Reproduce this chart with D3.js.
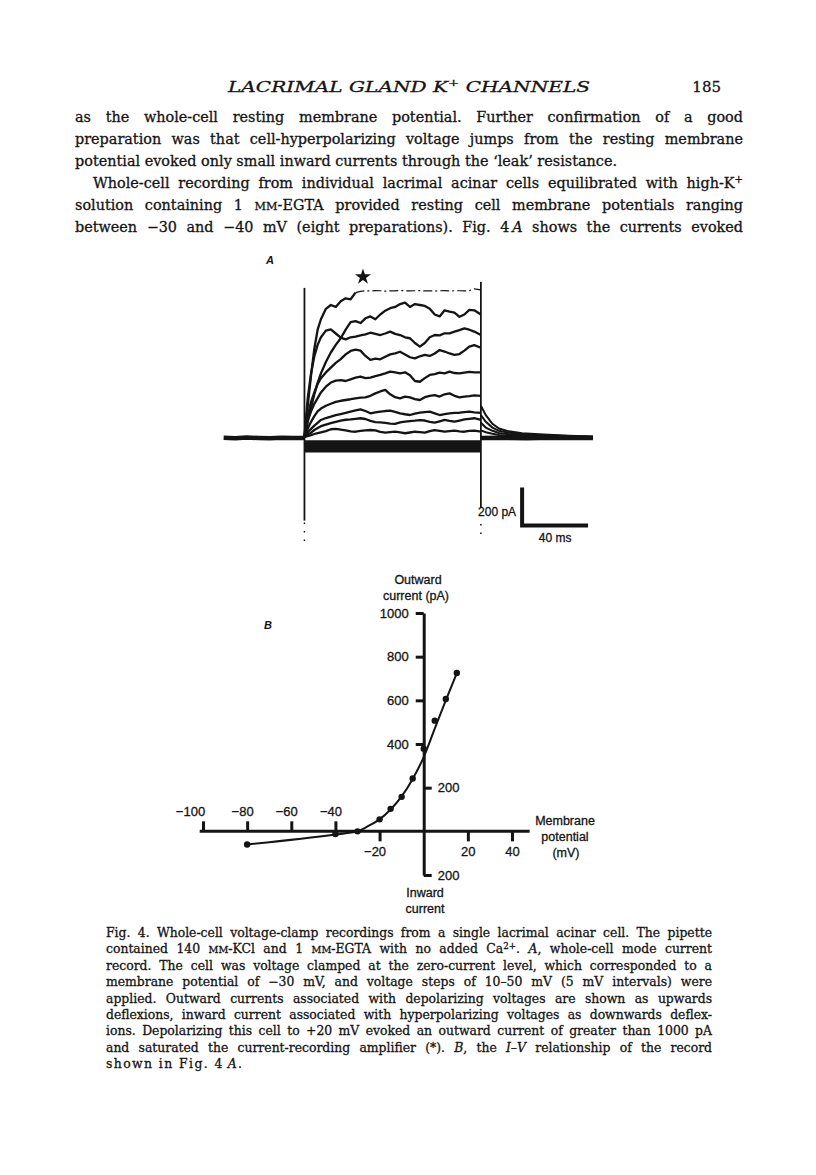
<!DOCTYPE html>
<html>
<head>
<meta charset="utf-8">
<script src="https://cdn.jsdelivr.net/npm/d3@7"></script>
<style>
  body { margin: 0; background: #fff; }
  svg { display: block; }
</style>
</head>
<body>
<div id="page"></div>
<script>
// ---- Panel A: whole-cell current traces (time in ms, current in pA) ----
const tA = [0, 1, 2, 4, 6, 8, 10, 13, 16, 19, 22, 25, 28, 31, 34, 37, 40, 43, 46, 49,
            52, 55, 58, 61, 64, 67, 70, 73, 76, 79, 82, 85, 88, 91, 94, 97, 100, 103, 107];

const trace1 = [5, 90, 170, 330, 470, 570, 625, 680, 700, 690, 720, 735, 730, 765, 772, 775, 774, 776, 775, 773,
                775, 774, 776, 775, 774, 775, 776, 774, 775, 773, 775, 776, 774, 775, 775, 774, 776, 785, 780];
const trace2 = [5, 40, 90, 160, 230, 290, 340, 400, 450, 490, 525, 570, 610, 615, 605, 630, 640, 625, 650, 670,
                683, 690, 705, 712, 690, 705, 700, 695, 680, 650, 640, 672, 665, 660, 638, 650, 674, 672, 650];
const trace3 = [5, 110, 210, 340, 430, 490, 530, 565, 572, 550, 528, 519, 530, 533, 540, 545, 554, 548, 542, 550,
                560, 548, 542, 530, 525, 500, 481, 500, 530, 542, 540, 551, 551, 560, 568, 577, 570, 560, 542];
const trace4 = [5, 60, 120, 190, 240, 285, 315, 345, 370, 395, 415, 440, 458, 465, 460, 432, 411, 418, 414, 428,
                440, 445, 454, 440, 425, 419, 430, 437, 432, 445, 463, 455, 445, 437, 442, 460, 481, 489, 475];
const trace5 = [5, 45, 90, 140, 180, 210, 240, 270, 292, 302, 305, 300, 309, 318, 323, 315, 318, 326, 332, 340,
                349, 345, 340, 346, 330, 300, 296, 315, 332, 336, 344, 340, 349, 342, 340, 344, 348, 345, 345];
const trace6 = [5, 25, 50, 85, 115, 140, 155, 170, 180, 190, 196, 200, 204, 209, 212, 214, 222, 235, 245, 253,
                230, 215, 209, 218, 214, 205, 200, 215, 222, 226, 218, 230, 235, 222, 214, 218, 220, 224, 222];
const trace7 = [5, 15, 30, 48, 65, 80, 95, 105, 112, 120, 126, 132, 139, 145, 151, 142, 130, 135, 139, 142,
                144, 138, 130, 125, 121, 128, 133, 136, 139, 130, 121, 126, 130, 132, 133, 136, 139, 135, 132];
const trace8 = [5, 10, 18, 28, 42, 52, 62, 70, 78, 85, 92, 96, 98, 101, 104, 100, 90, 84, 82, 80,
                76, 74, 82, 86, 89, 91, 94, 92, 85, 81, 88, 95, 90, 86, 92, 98, 101, 104, 96];
const trace9 = [5, 8, 10, 15, 21, 26, 30, 36, 46, 48, 44, 40, 35, 33, 37, 40, 42, 40, 32, 28,
                31, 34, 30, 25, 29, 33, 31, 28, 36, 42, 38, 33, 36, 39, 35, 33, 37, 39, 34];

// saturated trace: amplifier clipped from about 31 ms onward
const saturationStart = 31;

// inward (hyperpolarizing) records, flat levels during the pulse
const inwardLevels = [-20, -30, -40, -50, -60, -68];
const pulseWindow = [0, 107];

// tail currents after the pulse
const tailT = [107, 110, 114, 118, 124, 132, 145, 160, 175];
const tail1 = [170, 120, 75, 50, 35, 25, 18, 12, 8];
const tail2 = [120, 85, 55, 38, 28, 20, 14, 10, 6];
const tail3 = [80, 55, 38, 26, 20, 14, 10, 7, 5];
const tail4 = [40, 30, 22, 16, 12, 9, 7, 5, 4];

// holding baseline before and after the pulse
const preT = [-49, -42, -35, -28, -21, -14, -7, 0];
const preI = [1, -1, 2, 0, -1, 1, 0, 0];
const postT = [107, 120, 135, 150, 165, 175];
const postI = [0, 1, -1, 1, 0, 0];

// capacitive transients at pulse on / off (pA extents), dotted continuation
const transOn = [790, -435];
const transOnDots = [-445, -545];
const transOff = [822, -368];
const transOffDots = [-452, -525];

// scale bar: 40 ms x 200 pA
const barT = [132, 172];
const barI = [-460, -260];
const starAt = [35.5, 848];

// ---- Panel B: I-V relationship ----
const ivV = [-80, -40, -30, -20, -15, -10, -5, 0, 5, 10, 15];
const ivI = [-60, -12, 0, 55, 103, 158, 242, 378, 507, 606, 725];
const fitV = [-80, -40, -30, -25, -20, -15, -10, -5, 0, 5, 10, 15];
const fitI = [-60, -14, 0, 25, 55, 100, 160, 240, 340, 470, 600, 725];
const yTicksLeft = [400, 600, 800, 1000];
const yTicksRight = [200, -200];
const xTicksTop = [-100, -80, -60, -40];
const xTicksBottom = [-20, 20, 40];

const INK = '#141414';
const SERIF = '"DejaVu Serif", "Liberation Serif", serif';
const SANS = '"Liberation Sans", Arial, sans-serif';

const svg = d3.select('#page').append('svg')
    .attr('width', 816)
    .attr('height', 1175);
svg.append('rect').attr('width', 816).attr('height', 1175).attr('fill', '#fff');

// ---------- page text ----------
function addLine(x, y, target, size, segs, justify) {
    const t = svg.append('text')
        .attr('x', x)
        .attr('y', y)
        .attr('font-family', SERIF)
        .attr('font-size', size)
        .attr('fill', INK)
        .attr('stroke', INK)
        .attr('stroke-width', 0.3);
    let raised = false;
    segs.forEach(s => {
        const kind = s[1] || '';
        const sp = t.append('tspan').text(s[0]);
        if (kind === 'i') sp.attr('font-style', 'italic');
        if (kind === 'sc') sp.attr('font-size', size * 0.78);
        if (kind === 'sup') { sp.attr('font-size', size * 0.7).attr('dy', -size * 0.38); raised = true; }
        else if (raised) { sp.attr('dy', size * 0.38); raised = false; }
    });
    const natural = t.node().getComputedTextLength();
    const spaces = (t.text().match(/ /g) || []).length;
    if (justify && natural < target && spaces) {
        t.style('word-spacing', ((target - natural) / spaces) + 'px');
    } else if (natural < target) {
        t.attr('textLength', target).attr('lengthAdjust', 'spacing');
    } else {
        t.attr('textLength', target).attr('lengthAdjust', 'spacingAndGlyphs');
    }
    return t;
}

// running head
const head = svg.append('text')
    .attr('x', 228).attr('y', 92)
    .attr('font-family', SERIF).attr('font-style', 'italic')
    .attr('font-size', 15).attr('fill', INK)
    .attr('stroke', INK).attr('stroke-width', 0.3)
    .attr('textLength', 362).attr('lengthAdjust', 'spacingAndGlyphs');
head.append('tspan').text('LACRIMAL GLAND K');
head.append('tspan').text('+').attr('font-size', 10).attr('dy', -6);
head.append('tspan').text(' CHANNELS').attr('dy', 6);
svg.append('text')
    .attr('x', 721).attr('y', 92)
    .attr('text-anchor', 'end')
    .attr('font-family', SERIF).attr('font-size', 15).attr('fill', INK)
    .attr('stroke', INK).attr('stroke-width', 0.3)
    .text('185');

const bodySize = 14.4;
addLine(75, 122, 668, bodySize, [['as the whole-cell resting membrane potential. Further confirmation of a good']], true);
addLine(75, 144, 668, bodySize, [['preparation was that cell-hyperpolarizing voltage jumps from the resting membrane']], true);
addLine(75, 166, 542, bodySize, [['potential evoked only small inward currents through the \u2018leak\u2019 resistance.']], false);
addLine(93, 188, 650, bodySize, [['Whole-cell recording from individual lacrimal acinar cells equilibrated with high-K'], ['+', 'sup']], true);
addLine(75, 210, 668, bodySize, [['solution containing 1 '], ['MM', 'sc'], ['-EGTA provided resting cell membrane potentials ranging']], true);
addLine(75, 232, 668, bodySize, [['between \u221230 and \u221240 mV (eight preparations). Fig. 4\u2009'], ['A', 'i'], [' shows the currents evoked']], true);

const capSize = 12.4;
const capLines = [
    [['Fig. 4. Whole-cell voltage-clamp recordings from a single lacrimal acinar cell. The pipette']],
    [['contained 140 '], ['MM', 'sc'], ['-KCl and 1 '], ['MM', 'sc'], ['-EGTA with no added Ca'], ['2+', 'sup'], ['. '], ['A', 'i'], [', whole-cell mode current']],
    [['record. The cell was voltage clamped at the zero-current level, which corresponded to a']],
    [['membrane potential of \u221230 mV, and voltage steps of 10\u201350 mV (5 mV intervals) were']],
    [['applied. Outward currents associated with depolarizing voltages are shown as upwards']],
    [['deflexions, inward current associated with hyperpolarizing voltages as downwards deflex-']],
    [['ions. Depolarizing this cell to +20 mV evoked an outward current of greater than 1000 pA']],
    [['and saturated the current-recording amplifier (*). '], ['B', 'i'], [', the '], ['I', 'i'], ['\u2013'], ['V', 'i'], [' relationship of the record']]
];
capLines.forEach((segs, i) => addLine(106, 937 + i * 16.4, 606, capSize, segs, true));
addLine(106, 937 + 8 * 16.4, 136, capSize, [['shown in Fig. 4\u2009'], ['A', 'i'], ['.']], false);

// ---------- Panel A ----------
const xA = d3.scaleLinear().domain([-50, 175]).range([222, 593]);
const yA = d3.scaleLinear().domain([0, 200]).range([438, 400]);
const lineA = d3.line().x(d => xA(d[0])).y(d => yA(d[1]));
const gA = svg.append('g');

gA.append('path')
    .datum(preT.map((t, i) => [t, preI[i]]))
    .attr('fill', 'none').attr('stroke', INK).attr('stroke-width', 4.5)
    .attr('d', lineA);
gA.append('path')
    .datum(postT.map((t, i) => [t, postI[i]]))
    .attr('fill', 'none').attr('stroke', INK).attr('stroke-width', 4.5)
    .attr('d', lineA);

// inward band
gA.selectAll('.inward')
    .data(inwardLevels)
    .enter()
    .append('path')
    .attr('class', 'inward')
    .attr('fill', 'none').attr('stroke', INK).attr('stroke-width', 3)
    .attr('d', lv => lineA(pulseWindow.map(t => [t, lv])));

// depolarizing traces
const traces = [trace2, trace3, trace4, trace5, trace6, trace7, trace8, trace9];
gA.selectAll('.trace')
    .data(traces)
    .enter()
    .append('path')
    .attr('class', 'trace')
    .attr('fill', 'none').attr('stroke', INK).attr('stroke-width', 2.3)
    .attr('stroke-linejoin', 'round')
    .attr('d', tr => lineA(tA.map((t, i) => [t, tr[i]])));

const sat = tA.map((t, i) => [t, trace1[i]]);
gA.append('path')
    .datum(sat.filter(d => d[0] <= saturationStart))
    .attr('fill', 'none').attr('stroke', INK).attr('stroke-width', 2.3)
    .attr('stroke-linejoin', 'round')
    .attr('d', lineA);
gA.append('path')
    .datum(sat.filter(d => d[0] >= saturationStart))
    .attr('fill', 'none').attr('stroke', INK).attr('stroke-width', 1.2)
    .attr('stroke-dasharray', '9,3,2,3')
    .attr('d', lineA);

// tails
gA.selectAll('.tail')
    .data([tail1, tail2, tail3, tail4])
    .enter()
    .append('path')
    .attr('class', 'tail')
    .attr('fill', 'none').attr('stroke', INK).attr('stroke-width', 2)
    .attr('d', tl => lineA(tailT.map((t, i) => [t, tl[i]])));

// capacitive transients
gA.append('path')
    .datum(transOn.map(v => [pulseWindow[0], v]))
    .attr('fill', 'none').attr('stroke', INK).attr('stroke-width', 1.8)
    .attr('d', lineA);
gA.append('path')
    .datum(transOnDots.map(v => [pulseWindow[0], v]))
    .attr('fill', 'none').attr('stroke', INK).attr('stroke-width', 1.5)
    .attr('stroke-dasharray', '1.5,7')
    .attr('d', lineA);
gA.append('path')
    .datum(transOff.map(v => [pulseWindow[1], v]))
    .attr('fill', 'none').attr('stroke', INK).attr('stroke-width', 1.8)
    .attr('d', lineA);
gA.append('path')
    .datum(transOffDots.map(v => [pulseWindow[1], v]))
    .attr('fill', 'none').attr('stroke', INK).attr('stroke-width', 1.5)
    .attr('stroke-dasharray', '1.5,7')
    .attr('d', lineA);

// star marks the saturated record
gA.append('path')
    .attr('d', d3.symbol().type(d3.symbolStar).size(80))
    .attr('transform', `translate(${xA(starAt[0])},${yA(starAt[1])})`)
    .attr('fill', INK);

// scale bar
gA.append('path')
    .datum([[barT[0], barI[1]], [barT[0], barI[0]], [barT[1], barI[0]]])
    .attr('fill', 'none').attr('stroke', INK).attr('stroke-width', 4)
    .attr('stroke-linejoin', 'miter')
    .attr('d', lineA);
gA.append('text')
    .attr('x', xA(barT[0]) - 6).attr('y', yA(barI[0]) - 9)
    .attr('text-anchor', 'end')
    .attr('font-family', SANS).attr('font-size', 12).attr('fill', INK)
    .attr('stroke', INK).attr('stroke-width', 0.3)
    .text('200 pA');
gA.append('text')
    .attr('x', xA((barT[0] + barT[1]) / 2)).attr('y', yA(barI[0]) + 17)
    .attr('text-anchor', 'middle')
    .attr('font-family', SANS).attr('font-size', 12).attr('fill', INK)
    .attr('stroke', INK).attr('stroke-width', 0.3)
    .text('40 ms');
gA.append('text')
    .attr('x', 266).attr('y', 264)
    .attr('font-family', SANS).attr('font-style', 'italic').attr('font-weight', 'bold')
    .attr('font-size', 11).attr('fill', INK)
    .text('A');

// ---------- Panel B ----------
const xB = d3.scaleLinear().domain([-100, 40]).range([203, 512]);
const yB = d3.scaleLinear().domain([-200, 1000]).range([875, 613]);
const gB = svg.append('g');

function styleAxis(g) {
    g.attr('font-family', SANS).attr('font-size', 13);
    g.selectAll('line').attr('stroke', INK).attr('stroke-width', 3);
    g.selectAll('path.domain').attr('stroke', INK).attr('stroke-width', 3);
    g.selectAll('text').attr('fill', INK).attr('stroke', INK).attr('stroke-width', 0.3);
}

gB.append('g')
    .attr('transform', `translate(${xB(0)},0)`)
    .call(d3.axisLeft(yB).tickValues(yTicksLeft).tickSize(8).tickSizeOuter(0).tickPadding(7).tickFormat(d3.format('d')))
    .call(styleAxis);
gB.append('g')
    .attr('transform', `translate(${xB(0)},0)`)
    .call(d3.axisRight(yB).tickValues(yTicksRight).tickSize(8).tickSizeOuter(0).tickPadding(6).tickFormat(d => Math.abs(d)))
    .call(g => g.select('.domain').remove())
    .call(styleAxis);

gB.append('line')
    .attr('x1', xB(-101.5)).attr('x2', xB(48))
    .attr('y1', yB(0)).attr('y2', yB(0))
    .attr('stroke', INK).attr('stroke-width', 3);
gB.append('g')
    .attr('transform', `translate(0,${yB(0)})`)
    .call(d3.axisTop(xB).tickValues(xTicksTop).tickSize(10).tickSizeOuter(0).tickPadding(5).tickFormat(d3.format('d')))
    .call(g => g.select('.domain').remove())
    .call(styleAxis)
    .call(g => g.selectAll('text').attr('dx', d => d === -100 ? -13 : -5));
gB.append('g')
    .attr('transform', `translate(0,${yB(0)})`)
    .call(d3.axisBottom(xB).tickValues(xTicksBottom).tickSize(10).tickSizeOuter(0).tickPadding(5).tickFormat(d3.format('d')))
    .call(g => g.select('.domain').remove())
    .call(styleAxis)
    .call(g => g.selectAll('text').attr('dx', d => d < 0 ? -5 : 0));

// fitted curve and points
gB.append('path')
    .datum(fitV.map((v, i) => [v, fitI[i]]))
    .attr('fill', 'none').attr('stroke', INK).attr('stroke-width', 2)
    .attr('d', d3.line().x(d => xB(d[0])).y(d => yB(d[1])).curve(d3.curveMonotoneX));
gB.selectAll('.iv-point')
    .data(ivV.map((v, i) => [v, ivI[i]]))
    .enter()
    .append('circle')
    .attr('class', 'iv-point')
    .attr('cx', d => xB(d[0]))
    .attr('cy', d => yB(d[1]))
    .attr('r', 3.2)
    .attr('fill', INK);

// axis titles
function sansLabel(x, y, txt, anchor) {
    gB.append('text')
        .attr('x', x).attr('y', y)
        .attr('text-anchor', anchor || 'middle')
        .attr('font-family', SANS).attr('font-size', 12.5).attr('fill', INK)
        .attr('stroke', INK).attr('stroke-width', 0.3)
        .text(txt);
}
sansLabel(418, 584, 'Outward');
sansLabel(416, 600, 'current (pA)');
sansLabel(565, 825, 'Membrane');
sansLabel(565, 841, 'potential');
sansLabel(566, 857, '(mV)');
sansLabel(425, 897, 'Inward');
sansLabel(425, 913, 'current');
gB.append('text')
    .attr('x', 264).attr('y', 629)
    .attr('font-family', SANS).attr('font-style', 'italic').attr('font-weight', 'bold')
    .attr('font-size', 11).attr('fill', INK)
    .text('B');
</script>
</body>
</html>
